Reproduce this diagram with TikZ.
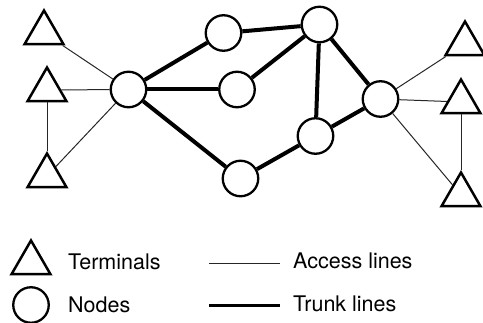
\documentclass[tikz,border=0pt]{standalone}
\usepackage{fontspec}
\setmainfont{TeX Gyre Heros}
\usetikzlibrary{shapes.geometric}
\begin{document}
\begin{tikzpicture}[x=1pt,y=-1pt,
  term/.style={draw,regular polygon,regular polygon sides=3,minimum size=45pt,inner sep=0pt,line width=2.5pt,line join=miter},
  nd/.style={draw,circle,minimum size=35.5pt,inner sep=0pt,line width=2.3pt,fill=white},
  access/.style={line width=1pt,black!85},
  trunk/.style={line width=4pt},
  lbl/.style={anchor=base west,inner sep=0pt,font=\fontsize{21.5}{25}\selectfont}]
\useasboundingbox (0,0) rectangle (483,323);
% terminals
\node[term] (T1) at (44,33) {};
\node[term] (T2) at (47,90) {};
\node[term] (T3) at (47,176) {};
\node[term] (T4) at (465,44) {};
\node[term] (T5) at (461,102) {};
\node[term] (T6) at (461,195) {};
% nodes
\node[nd] (N0) at (128.5,89.5) {};
\node[nd] (A) at (223.5,33) {};
\node[nd] (B) at (237,89.5) {};
\node[nd] (C) at (240.5,178.5) {};
\node[nd] (D) at (319.5,24.5) {};
\node[nd] (E) at (315.5,136) {};
\node[nd] (F) at (380.5,99) {};
% access lines
\draw[access] (T1) -- (N0);
\draw[access] (T2) -- (N0);
\draw[access] (T3) -- (N0);
\draw[access] (T2) -- (T3);
\draw[access] (T4) -- (F);
\draw[access] (T5) -- (F);
\draw[access] (T6) -- (F);
\draw[access] (T5) -- (T6);
% trunk lines
\draw[trunk] (N0) -- (A);
\draw[trunk] (N0) -- (B);
\draw[trunk] (N0) -- (C);
\draw[trunk] (A) -- (D);
\draw[trunk] (B) -- (D);
\draw[trunk] (D) -- (E);
\draw[trunk] (D) -- (F);
\draw[trunk] (E) -- (F);
\draw[trunk] (C) -- (E);
% legend
\node[term] (LT) at (31,263) {};
\node[nd] (LN) at (31,305) {};
\node[lbl] (LTt) at (68,270) {Terminals};
\node[lbl] (LNt) at (68,313) {Nodes};
\coordinate (a1) at (209,264);
\coordinate (a2) at (280,264);
\coordinate (t1) at (209,306);
\coordinate (t2) at (280,306);
\draw[access] (a1) -- (a2);
\draw[line width=3pt] (t1) -- (t2);
\node[lbl] (LAt) at (293,269) {Access lines};
\node[lbl] (LTr) at (293,312) {Trunk lines};
\end{tikzpicture}
\end{document}
